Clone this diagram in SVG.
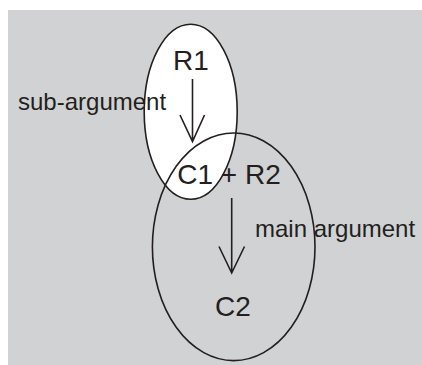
<svg xmlns="http://www.w3.org/2000/svg" width="422" height="365" viewBox="0 0 422 365">
<defs>
<style>
.lbl{font-family:"Liberation Sans",Arial,sans-serif;fill:#231f20}
.big{font-size:28px;text-anchor:middle}
.small{font-size:24px}
.edge{fill:none;stroke:#231f20;stroke-width:1.6}
.ell{stroke:#231f20;stroke-width:1.6}
</style>
</defs>
<rect x="0" y="0" width="422" height="365" fill="#ffffff"/>
<rect x="8" y="10" width="414" height="355" fill="#d1d2d4"/>
<g id="sub-argument-ellipse">
<ellipse class="ell" cx="190.7" cy="111.7" rx="46.5" ry="87.5" fill="#ffffff"/>
</g>
<g id="main-argument-ellipse">
<ellipse class="ell" cx="233.7" cy="246.8" rx="81.3" ry="113.8" fill="none"/>
</g>
<g id="R1"><text class="lbl big" x="191" y="70">R1</text></g>
<g id="C1R2"><text class="lbl big" x="229" y="184">C1 + R2</text></g>
<g id="C2"><text class="lbl big" x="233" y="316">C2</text></g>
<g id="label-sub"><text class="lbl small" x="18" y="110">sub-argument</text></g>
<g id="label-main"><text class="lbl small" x="255" y="237">main argument</text></g>
<g id="connectors">
<path class="edge" d="M192.5 79 V141.5 M180 115 L192.5 141.5 L204.5 115"/>
<path class="edge" d="M231.7 198 V273 M219 246.5 L231.7 273 L244.5 246.5"/>
</g>
</svg>
